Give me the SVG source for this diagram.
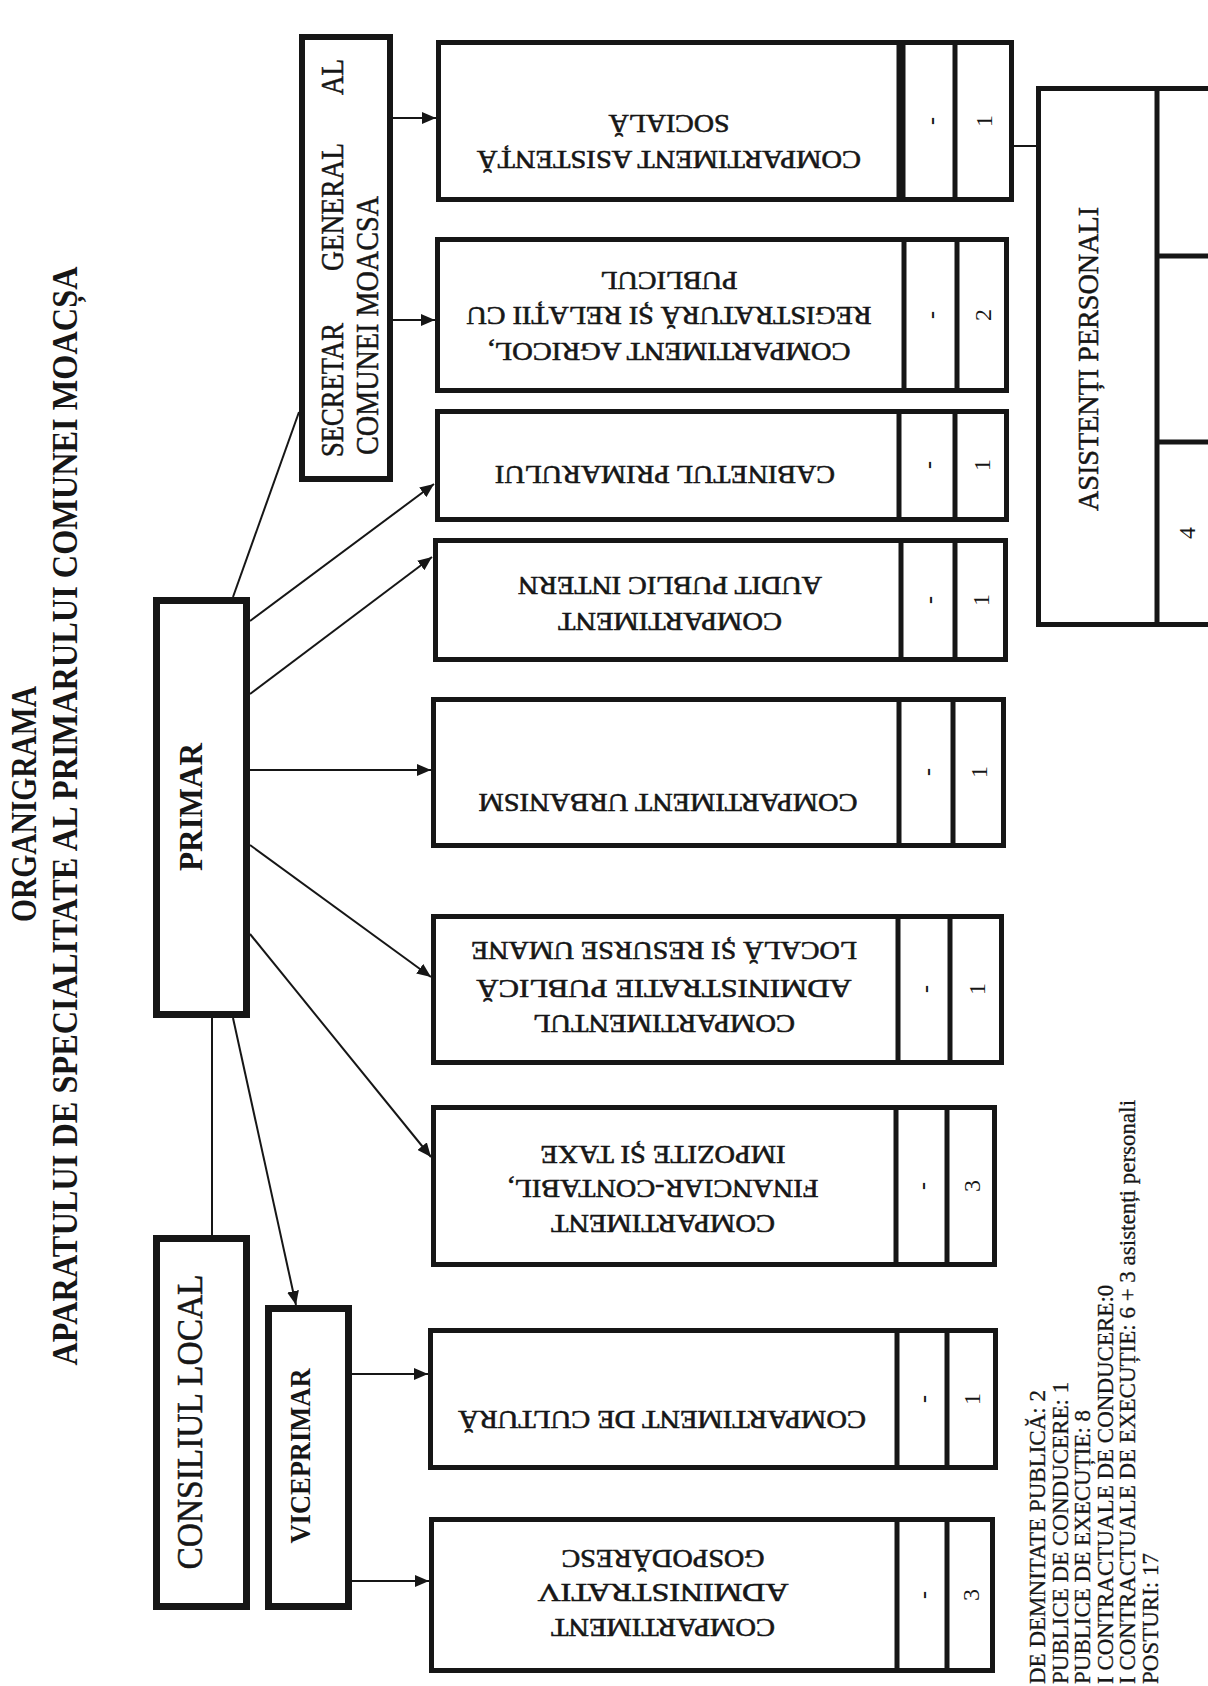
<svg xmlns="http://www.w3.org/2000/svg" width="1208" height="1686" viewBox="0 0 1208 1686">
<style>
.bg{fill:#ffffff}
.box{fill:#ffffff;stroke:#161616;stroke-width:5}
.bx7{fill:#ffffff;stroke:#161616;stroke-width:7}
.div{stroke:#161616;stroke-width:5}
.divt{stroke:#161616;stroke-width:9}
.con{fill:none;stroke:#161616;stroke-width:2}
.t{font-family:"Liberation Serif","Times New Roman",serif;fill:#161616;stroke:#161616;stroke-width:0.5}
.tb{font-family:"Liberation Serif","Times New Roman",serif;fill:#161616;font-weight:bold}
.dep{font-family:"Liberation Serif","Times New Roman",serif;fill:#161616;font-size:26px;stroke:#161616;stroke-width:0.6}
.num{font-family:"Liberation Serif","Times New Roman",serif;fill:#161616;font-size:24px}
.foot{font-family:"Liberation Serif","Times New Roman",serif;fill:#161616;font-size:23px;stroke:#161616;stroke-width:0.3}
</style>
<defs>
<marker id="ah" markerWidth="14" markerHeight="12" refX="14" refY="6" orient="auto" markerUnits="userSpaceOnUse">
<path d="M0,0 L14,6 L0,12 z" fill="#161616"/>
</marker>
</defs>
<rect class="bg" x="0" y="0" width="1208" height="1686"/>

<g id="titles">
<text class="tb" font-size="36" text-anchor="middle" x="24" y="816" textLength="236" lengthAdjust="spacingAndGlyphs" transform="rotate(-90 24 804)">ORGANIGRAMA</text>
<text class="tb" font-size="36" text-anchor="middle" x="65" y="828" textLength="1099" lengthAdjust="spacingAndGlyphs" transform="rotate(-90 65 816)">APARATULUI DE SPECIALITATE AL PRIMARULUI COMUNEI MOACȘA</text>
</g>

<g id="connectors">
<path class="con" d="M212,1235 L212,1018"/>
<path class="con" d="M233,1018 L296,1305" marker-end="url(#ah)"/>
<path class="con" d="M233,597 L299,412"/>
<path class="con" d="M250,621 L434,484" marker-end="url(#ah)"/>
<path class="con" d="M250,694 L432,557" marker-end="url(#ah)"/>
<path class="con" d="M250,770 L431,770" marker-end="url(#ah)"/>
<path class="con" d="M250,845 L431,977" marker-end="url(#ah)"/>
<path class="con" d="M250,934 L431,1157" marker-end="url(#ah)"/>
<path class="con" d="M393,118 L436,118" marker-end="url(#ah)"/>
<path class="con" d="M393,320 L435,320" marker-end="url(#ah)"/>
<path class="con" d="M352,1374 L428,1374" marker-end="url(#ah)"/>
<path class="con" d="M352,1581 L429,1581" marker-end="url(#ah)"/>
<path class="con" d="M1014,146 L1036,146"/>
</g>

<g id="secretar">
<rect class="box" x="302" y="37" width="88" height="442" style="stroke-width:6"/>
<text class="t" font-size="31" text-anchor="middle" x="333" y="400" textLength="134" lengthAdjust="spacingAndGlyphs" transform="rotate(-90 333 390)">SECRETAR</text>
<text class="t" font-size="31" text-anchor="middle" x="333" y="217" textLength="128" lengthAdjust="spacingAndGlyphs" transform="rotate(-90 333 207)">GENERAL</text>
<text class="t" font-size="31" text-anchor="middle" x="333" y="87" textLength="36" lengthAdjust="spacingAndGlyphs" transform="rotate(-90 333 77)">AL</text>
<text class="t" font-size="31" text-anchor="middle" x="368" y="335.5" textLength="259" lengthAdjust="spacingAndGlyphs" transform="rotate(-90 368 325.5)">COMUNEI MOACSA</text>
</g>

<g id="primar">
<rect class="bx7" x="156.5" y="600.5" width="90" height="414"/>
<text class="tb" font-size="33" text-anchor="middle" x="191" y="818" textLength="128" lengthAdjust="spacingAndGlyphs" transform="rotate(-90 191 807)">PRIMAR</text>
</g>

<g id="consiliul-local">
<rect class="bx7" x="156.5" y="1238.5" width="90" height="368"/>
<text class="t" font-size="36" text-anchor="middle" x="190" y="1434" textLength="295" lengthAdjust="spacingAndGlyphs" transform="rotate(-90 190 1422)">CONSILIUL LOCAL</text>
</g>

<g id="viceprimar">
<rect class="bx7" x="268.5" y="1308.5" width="80" height="298"/>
<text class="tb" font-size="29" text-anchor="middle" x="300" y="1466" textLength="175" lengthAdjust="spacingAndGlyphs" transform="rotate(-90 300 1456)">VICEPRIMAR</text>
</g>

<g id="asistenta-sociala">
<rect class="box" x="438.5" y="42.5" width="573" height="157"/>
<line class="divt" x1="901" y1="42" x2="901" y2="200"/>
<line class="div" x1="955" y1="42" x2="955" y2="200"/>
<text class="dep" text-anchor="middle" x="669" y="168.6" textLength="384" lengthAdjust="spacingAndGlyphs" transform="rotate(180 669 160)">COMPARTIMENT ASISTENȚĂ</text>
<text class="dep" text-anchor="middle" x="669" y="132.6" textLength="121" lengthAdjust="spacingAndGlyphs" transform="rotate(180 669 124)">SOCIALĂ</text>
<text class="num" font-weight="bold" text-anchor="middle" x="931" y="129" transform="rotate(-90 931 121)">-</text>
<text class="num" text-anchor="middle" x="984" y="129" transform="rotate(-90 984 121)">1</text>
</g>

<g id="agricol">
<rect class="box" x="437.5" y="239.5" width="569" height="151"/>
<line class="div" x1="904" y1="239" x2="904" y2="391"/>
<line class="div" x1="957" y1="239" x2="957" y2="391"/>
<text class="dep" text-anchor="middle" x="669" y="360.6" textLength="363" lengthAdjust="spacingAndGlyphs" transform="rotate(180 669 352)">COMPARTIMENT AGRICOL,</text>
<text class="dep" text-anchor="middle" x="669" y="324.6" textLength="405" lengthAdjust="spacingAndGlyphs" transform="rotate(180 669 316)">REGISTRATURĂ ȘI RELAȚII CU</text>
<text class="dep" text-anchor="middle" x="669" y="289.6" textLength="137" lengthAdjust="spacingAndGlyphs" transform="rotate(180 669 281)">PUBLICUL</text>
<text class="num" font-weight="bold" text-anchor="middle" x="931" y="323" transform="rotate(-90 931 315)">-</text>
<text class="num" text-anchor="middle" x="983" y="323" transform="rotate(-90 983 315)">2</text>
</g>

<g id="cabinetul">
<rect class="box" x="437.5" y="411.5" width="569" height="108"/>
<line class="div" x1="899" y1="411" x2="899" y2="520"/>
<line class="div" x1="955" y1="411" x2="955" y2="520"/>
<text class="dep" text-anchor="middle" x="665" y="483.6" textLength="340" lengthAdjust="spacingAndGlyphs" transform="rotate(180 665 475)">CABINETUL PRIMARULUI</text>
<text class="num" font-weight="bold" text-anchor="middle" x="928" y="473" transform="rotate(-90 928 465)">-</text>
<text class="num" text-anchor="middle" x="982" y="473" transform="rotate(-90 982 465)">1</text>
</g>

<g id="audit">
<rect class="box" x="435.5" y="540.5" width="570" height="119"/>
<line class="div" x1="901" y1="540" x2="901" y2="660"/>
<line class="div" x1="955" y1="540" x2="955" y2="660"/>
<text class="dep" text-anchor="middle" x="670" y="630.6" textLength="224" lengthAdjust="spacingAndGlyphs" transform="rotate(180 670 622)">COMPARTIMENT</text>
<text class="dep" text-anchor="middle" x="670" y="594.6" textLength="304" lengthAdjust="spacingAndGlyphs" transform="rotate(180 670 586)">AUDIT PUBLIC INTERN</text>
<text class="num" font-weight="bold" text-anchor="middle" x="929" y="608" transform="rotate(-90 929 600)">-</text>
<text class="num" text-anchor="middle" x="981" y="608" transform="rotate(-90 981 600)">1</text>
</g>

<g id="urbanism">
<rect class="box" x="433.5" y="699.5" width="570" height="146"/>
<line class="div" x1="899" y1="699" x2="899" y2="846"/>
<line class="div" x1="953" y1="699" x2="953" y2="846"/>
<text class="dep" text-anchor="middle" x="668" y="811.6" textLength="379" lengthAdjust="spacingAndGlyphs" transform="rotate(180 668 803)">COMPARTIMENT URBANISM</text>
<text class="num" font-weight="bold" text-anchor="middle" x="927" y="780" transform="rotate(-90 927 772)">-</text>
<text class="num" text-anchor="middle" x="979" y="780" transform="rotate(-90 979 772)">1</text>
</g>

<g id="administratie-publica">
<rect class="box" x="433.5" y="916.5" width="568" height="146"/>
<line class="div" x1="898" y1="916" x2="898" y2="1063"/>
<line class="div" x1="950" y1="916" x2="950" y2="1063"/>
<text class="dep" text-anchor="middle" x="664" y="1032.6" textLength="262" lengthAdjust="spacingAndGlyphs" transform="rotate(180 664 1024)">COMPARTIMENTUL</text>
<text class="dep" text-anchor="middle" x="664" y="997.6" textLength="375" lengthAdjust="spacingAndGlyphs" transform="rotate(180 664 989)">ADMINISTRATIE PUBLICĂ</text>
<text class="dep" text-anchor="middle" x="664" y="959.6" textLength="386" lengthAdjust="spacingAndGlyphs" transform="rotate(180 664 951)">LOCALĂ ȘI RESURSE UMANE</text>
<text class="num" font-weight="bold" text-anchor="middle" x="925" y="997" transform="rotate(-90 925 989)">-</text>
<text class="num" text-anchor="middle" x="977" y="997" transform="rotate(-90 977 989)">1</text>
</g>

<g id="financiar-contabil">
<rect class="box" x="433.5" y="1107.5" width="561" height="157"/>
<line class="div" x1="896" y1="1107" x2="896" y2="1265"/>
<line class="div" x1="947" y1="1107" x2="947" y2="1265"/>
<text class="dep" text-anchor="middle" x="663" y="1232.6" textLength="224" lengthAdjust="spacingAndGlyphs" transform="rotate(180 663 1224)">COMPARTIMENT</text>
<text class="dep" text-anchor="middle" x="663" y="1197.6" textLength="311" lengthAdjust="spacingAndGlyphs" transform="rotate(180 663 1189)">FINANCIAR-CONTABIL,</text>
<text class="dep" text-anchor="middle" x="663" y="1163.6" textLength="245" lengthAdjust="spacingAndGlyphs" transform="rotate(180 663 1155)">IMPOZITE ȘI TAXE</text>
<text class="num" font-weight="bold" text-anchor="middle" x="922" y="1194" transform="rotate(-90 922 1186)">-</text>
<text class="num" text-anchor="middle" x="972" y="1194" transform="rotate(-90 972 1186)">3</text>
</g>

<g id="cultura">
<rect class="box" x="430.5" y="1330.5" width="565" height="137"/>
<line class="div" x1="897" y1="1330" x2="897" y2="1468"/>
<line class="div" x1="947" y1="1330" x2="947" y2="1468"/>
<text class="dep" text-anchor="middle" x="662" y="1428.6" textLength="408" lengthAdjust="spacingAndGlyphs" transform="rotate(180 662 1420)">COMPARTIMENT DE CULTURĂ</text>
<text class="num" font-weight="bold" text-anchor="middle" x="923" y="1407" transform="rotate(-90 923 1399)">-</text>
<text class="num" text-anchor="middle" x="972" y="1407" transform="rotate(-90 972 1399)">1</text>
</g>

<g id="gospodaresc">
<rect class="box" x="431.5" y="1519.5" width="561" height="151"/>
<line class="div" x1="897" y1="1519" x2="897" y2="1671"/>
<line class="div" x1="947" y1="1519" x2="947" y2="1671"/>
<text class="dep" text-anchor="middle" x="663" y="1636.6" textLength="224" lengthAdjust="spacingAndGlyphs" transform="rotate(180 663 1628)">COMPARTIMENT</text>
<text class="dep" text-anchor="middle" x="663" y="1601.6" textLength="251" lengthAdjust="spacingAndGlyphs" transform="rotate(180 663 1593)">ADMINISTRATIV</text>
<text class="dep" text-anchor="middle" x="663" y="1567.6" textLength="203" lengthAdjust="spacingAndGlyphs" transform="rotate(180 663 1559)">GOSPODĂRESC</text>
<text class="num" font-weight="bold" text-anchor="middle" x="923" y="1603" transform="rotate(-90 923 1595)">-</text>
<text class="num" text-anchor="middle" x="971" y="1603" transform="rotate(-90 971 1595)">3</text>
</g>

<g id="asistenti-personali">
<path d="M1215,88.5 H1038.5 V624.5 H1215" fill="#ffffff" stroke="#161616" stroke-width="5"/>
<line class="div" x1="1157" y1="88" x2="1157" y2="625"/>
<line class="div" x1="1157" y1="256" x2="1210" y2="256"/>
<line class="div" x1="1157" y1="442" x2="1210" y2="442"/>
<text class="t" font-size="30" text-anchor="middle" x="1088" y="369" textLength="304" lengthAdjust="spacingAndGlyphs" transform="rotate(-90 1088 359)">ASISTENȚI PERSONALI</text>
<text class="num" font-size="25" text-anchor="middle" x="1186" y="541.5" transform="rotate(-90 1186 533)">4</text>
</g>

<g id="legend">
<text class="foot" x="1045" y="1684" transform="rotate(-90 1045 1684)">DE DEMNITATE PUBLICĂ: 2</text>
<text class="foot" x="1068" y="1684" transform="rotate(-90 1068 1684)">PUBLICE DE CONDUCERE: 1</text>
<text class="foot" x="1090" y="1684" transform="rotate(-90 1090 1684)">PUBLICE DE EXECUȚIE: 8</text>
<text class="foot" x="1113" y="1684" transform="rotate(-90 1113 1684)">I CONTRACTUALE DE CONDUCERE:0</text>
<text class="foot" x="1135" y="1684" transform="rotate(-90 1135 1684)">I CONTRACTUALE DE EXECUȚIE: 6 + 3 asistenți personali</text>
<text class="foot" x="1158" y="1684" transform="rotate(-90 1158 1684)">POSTURI: 17</text>
</g>
</svg>
